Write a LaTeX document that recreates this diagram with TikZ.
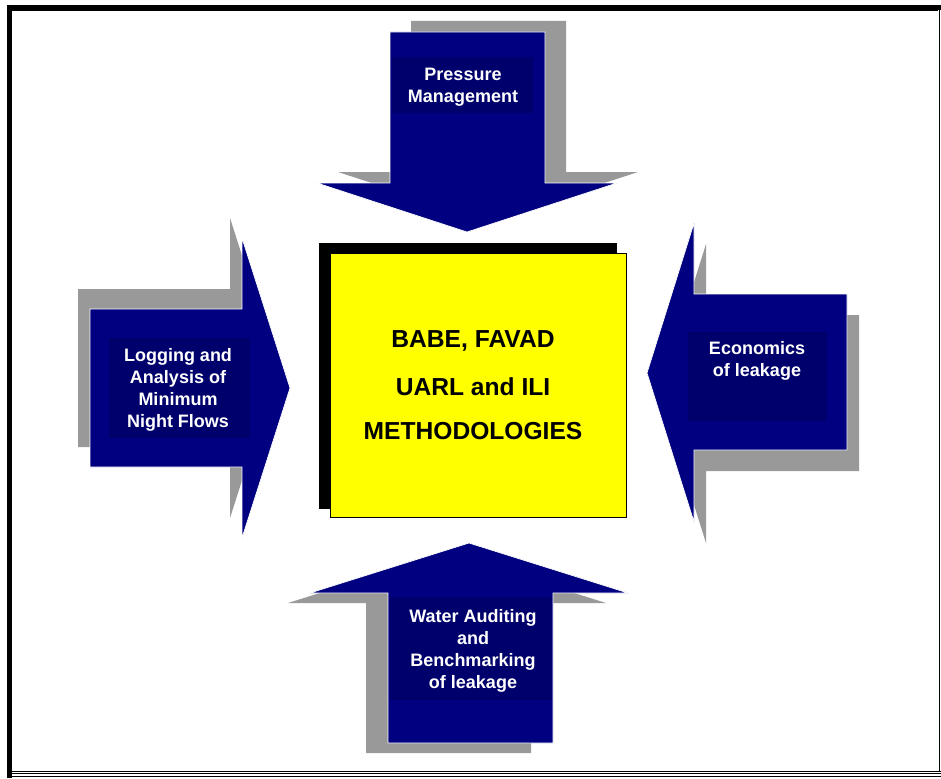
\documentclass[tikz,border=0pt]{standalone}
\usepackage{fontspec}
\setmainfont{Liberation Sans}
\definecolor{navy}{RGB}{0,0,128}
\definecolor{navyin}{RGB}{0,0,108}
\definecolor{shade}{RGB}{153,153,153}
\definecolor{yel}{RGB}{255,255,0}
\tikzset{
  shadowshape/.style={fill=shade, draw=none},
  arrowshape/.style={fill=navy, draw=white, line width=0.7pt},
  innerbox/.style={fill=navyin, draw=none},
  armlabel/.style={text=white, font=\fontsize{18}{22}\selectfont\bfseries, align=center, inner sep=0pt},
  centrelabel/.style={text=black, font=\fontsize{24.6}{28}\selectfont\bfseries, anchor=base, inner sep=0pt},
}
\begin{document}
\begin{tikzpicture}[x=1pt,y=-1pt]
\useasboundingbox (0,0) rectangle (941,778);
\fill[white] (0,0) rectangle (941,778);
% frame
\fill[black] (7,5) rectangle (941,10);
\fill[black] (7,5) rectangle (12,778);
\draw[shade, line width=1pt] (12,10.8) -- (938,10.8);
\draw[shade, line width=1.5pt] (939.5,10) -- (939.5,772);
\draw[shade, line width=1pt] (12,771.5) -- (941,771.5);
\draw[black, line width=1pt] (12,773.3) -- (941,773.3);
\draw[black, line width=1.6pt] (12,776.6) -- (941,776.6);

% top arrow (down)
\begin{scope}[shift={(21,-11)}]
\path[shadowshape] (390,32) -- (545,32) -- (545,183) -- (617,183) -- (467,232) -- (317,183) -- (390,183) -- cycle;
\end{scope}
\path[arrowshape] (390,32) -- (545,32) -- (545,183) -- (617,183) -- (467,232) -- (317,183) -- (390,183) -- cycle;
\fill[innerbox] (392,57) rectangle (533,113);
\node[armlabel] (pm) at (463,87) {Pressure\\Management};

% left arrow (right)
\begin{scope}[shift={(-12,-20)}]
\path[shadowshape] (90,309) -- (242,309) -- (242,238) -- (290,388) -- (242,538) -- (242,467) -- (90,467) -- cycle;
\end{scope}
\path[arrowshape] (90,309) -- (242,309) -- (242,238) -- (290,388) -- (242,538) -- (242,467) -- (90,467) -- cycle;
\fill[innerbox] (109,338) rectangle (250,438);
\node[armlabel] (mnf) at (178,390) {Logging and\\Analysis of\\Minimum\\Night Flows};

% right arrow (left)
\begin{scope}[shift={(12,21)}]
\path[shadowshape] (847,294) -- (694,294) -- (694,223) -- (647,373) -- (694,522) -- (694,450) -- (847,450) -- cycle;
\end{scope}
\path[arrowshape] (847,294) -- (694,294) -- (694,223) -- (647,373) -- (694,522) -- (694,450) -- (847,450) -- cycle;
\fill[innerbox] (688,332) rectangle (827,421);
\node[armlabel] (eco) at (757,361) {Economics\\of leakage};

% bottom arrow (up)
\begin{scope}[shift={(-22,10)}]
\path[shadowshape] (388,743) -- (553,743) -- (553,593) -- (628,593) -- (469,543) -- (310,593) -- (388,593) -- cycle;
\end{scope}
\path[arrowshape] (388,743) -- (553,743) -- (553,593) -- (628,593) -- (469,543) -- (310,593) -- (388,593) -- cycle;
\fill[innerbox] (390,597) rectangle (552,700);
\node[armlabel] (wab) at (473,651) {Water Auditing\\and\\Benchmarking\\of leakage};

% centre box
\fill[black] (319,243) rectangle (617,509);
\node[draw=black, fill=yel, line width=1pt, minimum width=296pt, minimum height=264pt, inner sep=0pt] (centre) at (478,385) {};
\node[centrelabel] (c1) at (473,347) {BABE, FAVAD};
\node[centrelabel] (c2) at (473,395) {UARL and ILI};
\node[centrelabel] (c3) at (473,439) {METHODOLOGIES};
\end{tikzpicture}
\end{document}
